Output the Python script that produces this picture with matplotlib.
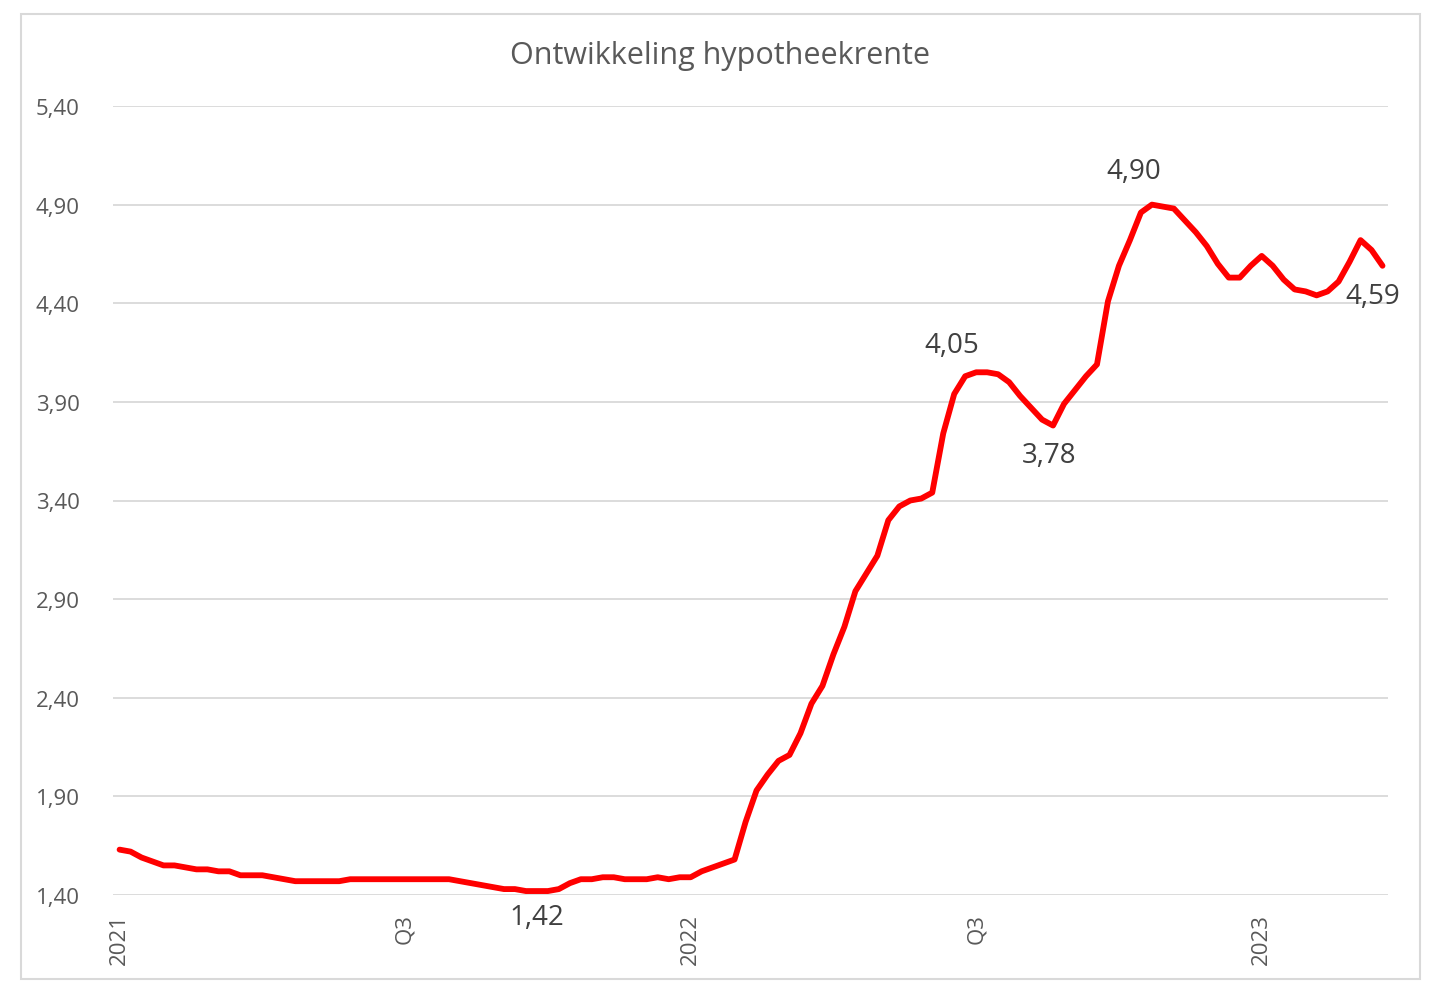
import numpy as np
import matplotlib
matplotlib.use("Agg")
import matplotlib.pyplot as plt
from matplotlib.patches import Rectangle

plt.rcParams['font.family'] = ['Open Sans', 'DejaVu Sans']

# weekly mortgage rate, first week of 2021 onwards
rente = [
    1.63, 1.62, 1.59, 1.57, 1.55, 1.55, 1.54, 1.53, 1.53, 1.52,
    1.52, 1.50, 1.50, 1.50, 1.49, 1.48, 1.47, 1.47, 1.47, 1.47,
    1.47, 1.48, 1.48, 1.48, 1.48, 1.48, 1.48, 1.48, 1.48, 1.48,
    1.48, 1.47, 1.46, 1.45, 1.44, 1.43, 1.43, 1.42, 1.42, 1.42,
    1.43, 1.46, 1.48, 1.48, 1.49, 1.49, 1.48, 1.48, 1.48, 1.49,
    1.48, 1.49, 1.49, 1.52, 1.54, 1.56, 1.58, 1.77, 1.93, 2.01,
    2.08, 2.11, 2.22, 2.37, 2.46, 2.62, 2.76, 2.94, 3.03, 3.12,
    3.30, 3.37, 3.40, 3.41, 3.44, 3.74, 3.94, 4.03, 4.05, 4.05,
    4.04, 4.00, 3.93, 3.87, 3.81, 3.78, 3.89, 3.96, 4.03, 4.09,
    4.41, 4.59, 4.72, 4.86, 4.90, 4.89, 4.88, 4.82, 4.76, 4.69,
    4.60, 4.53, 4.53, 4.59, 4.64, 4.59, 4.52, 4.47, 4.46, 4.44,
    4.46, 4.51, 4.61, 4.72, 4.67, 4.59,
]
weeks = np.arange(len(rente))

tick_weeks = [0, 26, 52, 78, 104]
tick_labels = ['2021', 'Q3', '2022', 'Q3', '2023']
y_ticks = [1.40, 1.90, 2.40, 2.90, 3.40, 3.90, 4.40, 4.90, 5.40]

# labelled points: week index, label, offset in pixels
labels = [
    (38, '1,42', (0, -26)),
    (78, '4,05', (-24, 27)),
    (85, '3,78', (-4, -29)),
    (94, '4,90', (-18, 34)),
    (115, '4,59', (-10, -30)),
]

fig = plt.figure(figsize=(14.4, 9.95), dpi=100)
fig.patches.append(Rectangle((21 / 1440, 1 - 980 / 995), 1399 / 1440, 965 / 995,
                             transform=fig.transFigure, fill=False,
                             edgecolor='#d9d9d9', linewidth=1.5))

ax = fig.add_axes([113 / 1440, 1 - 896 / 995, 1275 / 1440, 789 / 995])
ax.plot(weeks, rente, color='#ff0000', linewidth=4.2, solid_joinstyle='round',
        solid_capstyle='round')

ax.set_xlim(-0.6, 115.5)
ax.set_ylim(1.40, 5.40)
ax.set_yticks(y_ticks)
ax.set_yticklabels([f'{v:.2f}'.replace('.', ',') for v in y_ticks])
ax.set_xticks(tick_weeks)
ax.set_xticklabels(tick_labels, rotation=90)
ax.tick_params(axis='both', length=0, labelsize=16, labelcolor='#595959')
ax.tick_params(axis='y', pad=24)
ax.tick_params(axis='x', pad=13)
ax.grid(axis='y', color='#d9d9d9', linewidth=1.3)
ax.set_axisbelow(True)
for s in ax.spines.values():
    s.set_visible(False)

for wk, txt, off in labels:
    ax.annotate(txt, (wk, rente[wk]), xytext=off, textcoords='offset pixels',
                ha='center', va='center', fontsize=20, color='#404040')

fig.text(720 / 1440, 1 - 56 / 995, 'Ontwikkeling hypotheekrente', ha='center',
         va='center', fontsize=22, color='#595959')

fig.savefig('out.png', dpi=100, facecolor='white')
